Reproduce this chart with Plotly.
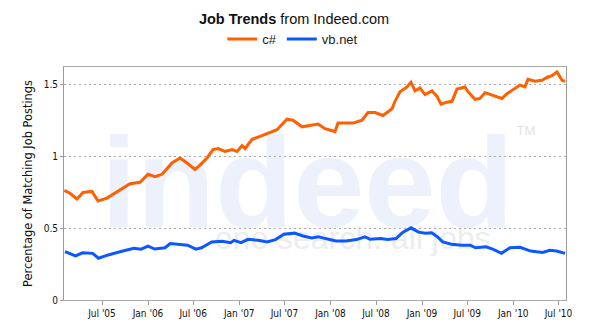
import plotly.graph_objects as go

# ---- data ----
csharp_dates = ["2005-01-31", "2005-02-23", "2005-03-23", "2005-04-16", "2005-05-22", "2005-06-15",
                "2005-07-21", "2005-09-11", "2005-10-21", "2005-11-30", "2006-01-01", "2006-01-29",
                "2006-02-26", "2006-04-07", "2006-05-09", "2006-06-06", "2006-07-08", "2006-07-28",
                "2006-08-25", "2006-09-18", "2006-10-08", "2006-11-05", "2006-12-03", "2006-12-23",
                "2007-01-12", "2007-01-24", "2007-02-21", "2007-03-25", "2007-05-04", "2007-06-01",
                "2007-07-11", "2007-08-04", "2007-09-09", "2007-10-03", "2007-11-12", "2007-12-10",
                "2008-01-19", "2008-01-31", "2008-03-31", "2008-05-06", "2008-05-30", "2008-06-27",
                "2008-07-29", "2008-09-03", "2008-09-15", "2008-10-05", "2008-11-02", "2008-11-18",
                "2008-12-04", "2008-12-24", "2009-01-13", "2009-02-10", "2009-03-02", "2009-03-18",
                "2009-04-11", "2009-05-01", "2009-05-21", "2009-06-22", "2009-07-04", "2009-08-01",
                "2009-08-21", "2009-09-10", "2009-09-30", "2009-10-20", "2009-11-17", "2009-12-07",
                "2009-12-31", "2010-01-28", "2010-02-17", "2010-03-01", "2010-03-29", "2010-04-26",
                "2010-05-16", "2010-06-05", "2010-06-25", "2010-07-15", "2010-07-27"]
csharp_values = [0.764, 0.744, 0.704, 0.750, 0.757, 0.690,
                 0.710, 0.770, 0.810, 0.820, 0.876, 0.860,
                 0.876, 0.955, 0.990, 0.955, 0.910, 0.940,
                 0.990, 1.048, 1.055, 1.035, 1.048, 1.035,
                 1.075, 1.055, 1.120, 1.140, 1.167, 1.187,
                 1.260, 1.253, 1.207, 1.213, 1.227, 1.194,
                 1.174, 1.233, 1.233, 1.253, 1.306, 1.306,
                 1.286, 1.333, 1.385, 1.452, 1.485, 1.518,
                 1.458, 1.478, 1.432, 1.458, 1.419, 1.365,
                 1.379, 1.385, 1.471, 1.485, 1.452, 1.399,
                 1.405, 1.445, 1.432, 1.419, 1.405, 1.438,
                 1.465, 1.498, 1.485, 1.538, 1.525, 1.531,
                 1.551, 1.564, 1.590, 1.531, 1.525]

vbnet_dates = ["2005-02-03", "2005-03-17", "2005-04-14", "2005-05-25", "2005-06-17", "2005-07-26",
               "2005-09-26", "2005-11-06", "2005-12-04", "2006-01-01", "2006-01-28", "2006-03-10",
               "2006-03-31", "2006-05-05", "2006-06-08", "2006-07-12", "2006-08-03", "2006-09-13",
               "2006-10-24", "2006-11-28", "2006-12-11", "2007-01-08", "2007-02-05", "2007-03-18",
               "2007-04-22", "2007-05-26", "2007-06-29", "2007-08-10", "2007-09-13", "2007-10-18",
               "2007-11-14", "2007-12-12", "2008-01-23", "2008-03-03", "2008-04-14", "2008-05-18",
               "2008-06-07", "2008-07-20", "2008-08-16", "2008-09-19", "2008-10-17", "2008-11-18",
               "2008-12-18", "2009-01-15", "2009-02-09", "2009-03-04", "2009-03-25", "2009-04-29",
               "2009-06-09", "2009-07-13", "2009-08-03", "2009-09-14", "2009-10-11", "2009-11-15",
               "2009-12-19", "2010-01-28", "2010-03-12", "2010-04-29", "2010-05-27", "2010-06-23",
               "2010-07-27"]
vbnet_values = [0.337, 0.307, 0.329, 0.325, 0.291, 0.314,
                0.343, 0.360, 0.354, 0.375, 0.355, 0.364,
                0.393, 0.387, 0.382, 0.354, 0.364, 0.405,
                0.409, 0.400, 0.416, 0.400, 0.423, 0.416,
                0.405, 0.421, 0.458, 0.466, 0.446, 0.433,
                0.440, 0.428, 0.412, 0.412, 0.421, 0.440,
                0.423, 0.428, 0.421, 0.428, 0.473, 0.503,
                0.473, 0.466, 0.469, 0.440, 0.405, 0.389,
                0.382, 0.382, 0.364, 0.371, 0.354, 0.325,
                0.364, 0.367, 0.341, 0.332, 0.347, 0.341,
                0.325]

x_tick_dates = ["2005-07-01", "2006-01-01", "2006-07-01", "2007-01-01", "2007-07-01", "2008-01-01",
                "2008-07-01", "2009-01-01", "2009-07-01", "2010-01-01", "2010-07-01"]
x_tick_labels = ["Jul '05", "Jan '06", "Jul '06", "Jan '07", "Jul '07", "Jan '08",
                 "Jul '08", "Jan '09", "Jul '09", "Jan '10", "Jul '10"]
y_tick_values = [0, 0.5, 1, 1.5]
y_tick_labels = ["0", "0.5", "1", "1.5"]

series_names = ["c#", "vb.net"]
series_colors = ["#ff6000", "#0d57ff"]

fig = go.Figure()
fig.add_trace(go.Scatter(x=csharp_dates, y=csharp_values, mode="lines", name=series_names[0],
                         line=dict(color=series_colors[0], width=3), hoverinfo="skip"))
fig.add_trace(go.Scatter(x=vbnet_dates, y=vbnet_values, mode="lines", name=series_names[1],
                         line=dict(color=series_colors[1], width=3), hoverinfo="skip"))

# watermark (decorative text, drawn below grid and lines)
fig.add_shape(type="rect", xref="paper", yref="paper", x0=0.05, x1=0.92, y0=0.27, y1=0.84,
              line=dict(width=0), fillcolor="rgba(0,0,0,0)", layer="below",
              label=dict(text="indeed", textposition="middle center",
                         font=dict(family="Liberation Sans", size=128, color="#ecf1fc", weight="bold")))
fig.add_shape(type="rect", xref="paper", yref="paper", x0=0.2, x1=0.95, y0=0.18, y1=0.38,
              line=dict(width=0), fillcolor="rgba(0,0,0,0)", layer="below",
              label=dict(text="one search. all jobs", textposition="middle center",
                         font=dict(family="Liberation Sans", size=32, color="#ededed")))
fig.add_shape(type="rect", xref="paper", yref="paper", x0=0.88, x1=0.96, y0=0.68, y1=0.78,
              line=dict(width=0), fillcolor="rgba(0,0,0,0)", layer="below",
              label=dict(text="TM", textposition="middle center",
                         font=dict(family="Liberation Sans", size=13, color="#e2e2e2")))

fig.update_layout(
    width=600, height=333,
    margin=dict(l=64, r=34, t=54, b=33),
    paper_bgcolor="white", plot_bgcolor="white",
    title=dict(text="<b>Job Trends</b> from Indeed.com", x=0.49, xanchor="center",
               y=1 - 19 / 333, yanchor="middle",
               font=dict(family="Liberation Sans", size=14.5, color="#111")),
    showlegend=True,
    legend=dict(orientation="h", xref="container", yref="container",
                x=0.488, xanchor="center", y=1 - 39 / 333, yanchor="middle",
                font=dict(family="Liberation Sans", size=13, color="#222"),
                itemwidth=30, bgcolor="rgba(0,0,0,0)", tracegroupgap=0),
    hovermode=False,
    xaxis=dict(range=["2005-01-30", "2010-07-31"], type="date",
               tickmode="array", tickvals=x_tick_dates, ticktext=x_tick_labels,
               ticks="outside", ticklen=4, tickcolor="#999",
               showgrid=False, zeroline=False,
               showline=True, linecolor="#aaa", linewidth=1, mirror=True,
               tickfont=dict(family="DejaVu Sans Condensed", size=10, color="#111")),
    yaxis=dict(range=[0, 1.624], tickmode="array", tickvals=y_tick_values, ticktext=y_tick_labels,
               ticks="outside", ticklen=3, tickcolor="#999",
               showgrid=True, gridcolor="#aaaaaa", griddash="2px,3px", gridwidth=1,
               zeroline=False,
               showline=True, linecolor="#999", linewidth=1, mirror=True,
               tickfont=dict(family="DejaVu Sans Condensed", size=10, color="#111"),
               title=dict(text="Percentage of Matching Job Postings", standoff=8,
                          font=dict(family="DejaVu Sans", size=11.4, color="#111"))),
)

fig.write_html("out.html", config={"displayModeBar": False})
